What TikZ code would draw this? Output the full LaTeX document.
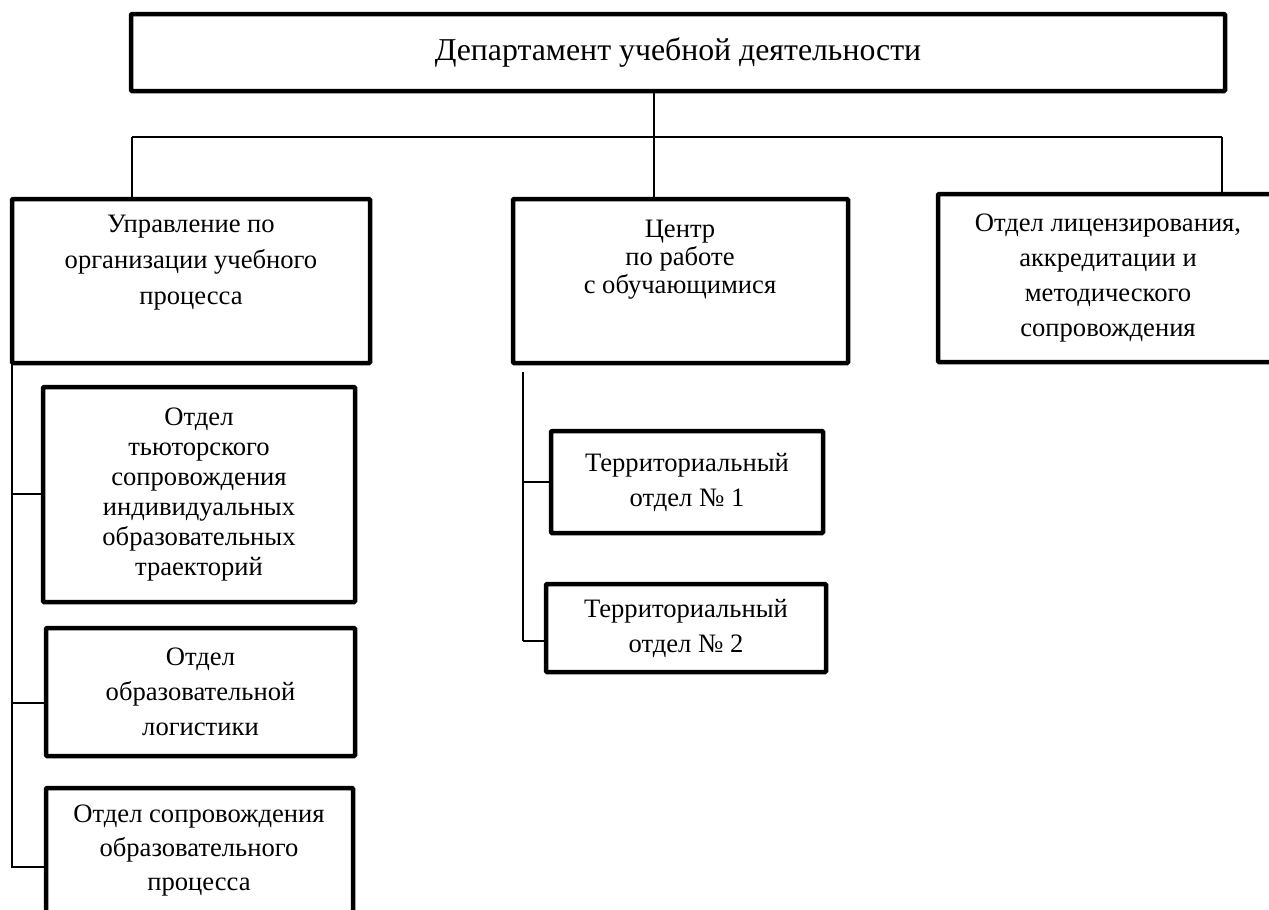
\documentclass[tikz,border=0pt]{standalone}
\usepackage{fontspec}
\setmainfont{Liberation Serif}
\begin{document}
\begin{tikzpicture}[x=1pt,y=-1pt,
  box/.style={draw, line width=4.5pt, inner sep=0pt, outer sep=0pt, anchor=north west, align=center, rounded corners=1pt},
  txt/.style={inner sep=0pt, align=center, font=\fontsize{26.6}{#1}\selectfont},
  txt/.default=35,
  conn/.style={line width=1.8pt}]
\clip (0,0) rectangle (1269,910);
\fill[white] (0,0) rectangle (1269,910);
% boxes
\node[box, minimum width=1094pt, minimum height=77pt, font=\fontsize{31.8}{38}\selectfont] (top) at (131,14) {Департамент учебной деятельности};
\node[box, minimum width=358pt, minimum height=164pt] (upr) at (12,199) {};
\node[box, minimum width=335pt, minimum height=164pt] (cen) at (513,199) {};
\node[box, minimum width=340pt, minimum height=168pt, txt=35] (lic) at (938,194) {Отдел лицензирования,\\аккредитации и\\методического\\сопровождения};
\node[box, minimum width=312pt, minimum height=215pt, txt=30] (tut) at (43,387) {Отдел\\тьюторского\\сопровождения\\индивидуальных\\образовательных\\траекторий};
\node[box, minimum width=309pt, minimum height=128pt, txt=35] (log) at (46,628) {Отдел\\образовательной\\логистики};
\node[box, minimum width=307pt, minimum height=160pt] (sop) at (46,788) {};
\node[box, minimum width=272pt, minimum height=102pt, txt=35] (t1) at (551,431) {Территориальный\\отдел №~1};
\node[box, minimum width=280pt, minimum height=88pt, txt=35] (t2) at (546,584) {Территориальный\\отдел №~2};
% top-aligned texts
\node[txt=36] (uprT) at (191,263) {Управление по\\организации учебного\\процесса};
\node[txt=28] (cenT) at (680,260) {Центр\\по работе\\с обучающимися};
\node[txt=34] (sopT) at (199,851) {Отдел сопровождения\\образовательного\\процесса};
% connectors
\coordinate (j0) at (654,91);
\coordinate (bl) at (132,137);
\coordinate (bm) at (654,137);
\coordinate (br) at (1222,137);
\draw[conn] (j0) -- (bm);
\draw[conn] (bl) -- (br);
\draw[conn] (bl) -- (bl |- upr.north);
\draw[conn] (bm) -- (bm |- cen.north);
\draw[conn] (br) -- (br |- lic.north);
% left branch
\coordinate (lv0) at (12,363);
\coordinate (lv1) at (12,494);
\coordinate (lv2) at (12,703);
\coordinate (lv3) at (11,867);
\draw[conn] (lv0) -- (12,867);
\draw[conn] (lv1) -- (lv1 -| tut.west);
\draw[conn] (lv2) -- (lv2 -| log.west);
\draw[conn] (lv3) -- (lv3 -| sop.west);
% center branch
\coordinate (cv0) at (523,372);
\coordinate (cv1) at (523,482);
\coordinate (cv2) at (523,641);
\draw[conn] (cv0) -- (cv2);
\draw[conn] (cv1) -- (cv1 -| t1.west);
\draw[conn] (cv2) -- (cv2 -| t2.west);
\end{tikzpicture}
\end{document}
